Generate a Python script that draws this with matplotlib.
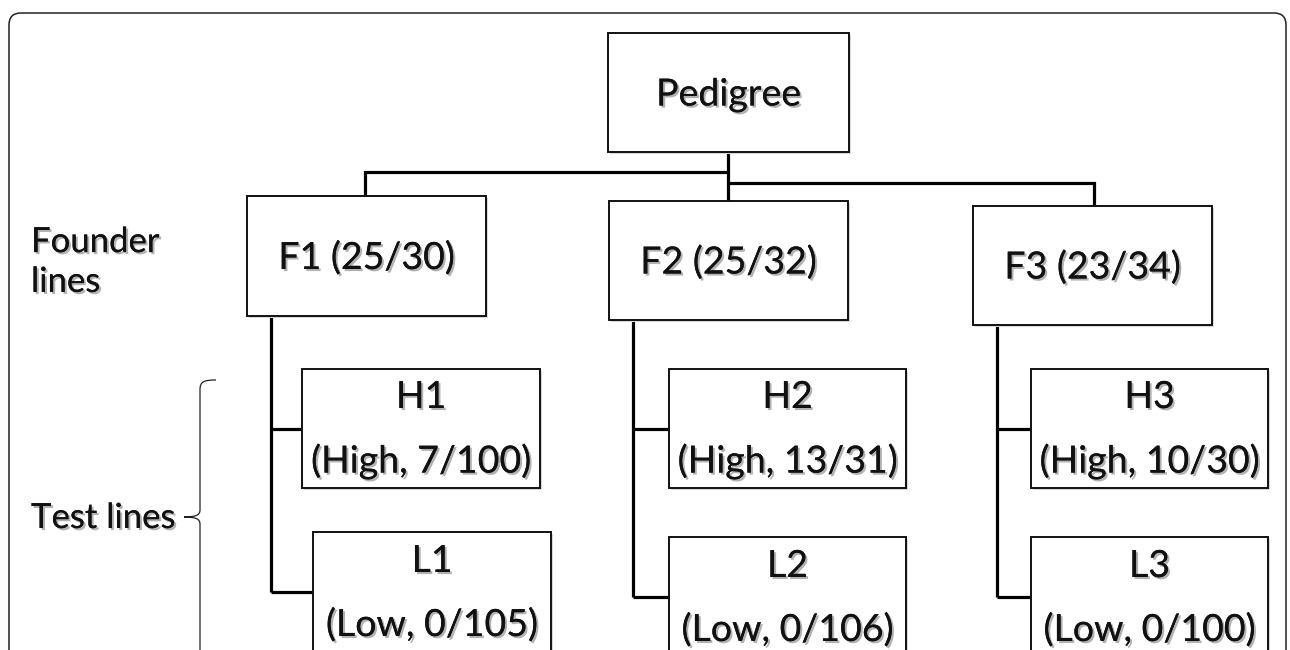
import matplotlib
matplotlib.use("Agg")
import matplotlib.pyplot as plt
from matplotlib.patches import Rectangle, FancyBboxPatch, PathPatch
from matplotlib.path import Path
import matplotlib.patheffects as pe

# ---- content ----
root_label = "Pedigree"
founder_labels = ["F1 (25/30)", "F2 (25/32)", "F3 (23/34)"]
high_names = ["H1", "H2", "H3"]
high_details = ["(High, 7/100)", "(High, 13/31)", "(High, 10/30)"]
low_names = ["L1", "L2", "L3"]
low_details = ["(Low, 0/105)", "(Low, 0/106)", "(Low, 0/100)"]
side_labels = ["Founder\nlines", "Test lines"]

# ---- layout (pixel coordinates, y downwards) ----
W, H = 1290, 650
root_box = (608, 33, 849, 152)
founder_boxes = [(247, 196, 486, 316), (609, 201, 848, 320), (973, 206, 1212, 325)]
founder_join_y = [172, 172, 183]
founder_join_x = [365, 728, 1094]
trunk_x = [271, 633, 997]
high_boxes = [(302, 369, 540, 488), (669, 369, 906, 488), (1031, 369, 1268, 488)]
low_boxes = [(313, 532, 551, 700), (669, 537, 906, 700), (1031, 537, 1268, 700)]
high_branch_y = [429, 429, 429]
low_branch_y = [592, 597, 597]

FONT = "Lato"
FS = 27
FS_SIDE = 25

fig = plt.figure(figsize=(W / 100, H / 100), dpi=100)
ax = fig.add_axes([0, 0, 1, 1])
ax.set_xlim(0, W)
ax.set_ylim(H, 0)
ax.axis("off")

shadow_txt = [pe.withSimplePatchShadow(offset=(1.5, -1.5), shadow_rgbFace="#000000", alpha=0.3), pe.Normal()]

def box(b, lw=1.4):
    x0, y0, x1, y1 = b
    ax.add_patch(Rectangle((x0 + 2, y0 + 2), x1 - x0, y1 - y0, facecolor="#d8d8d8",
                           edgecolor="none", zorder=2))
    ax.add_patch(Rectangle((x0, y0), x1 - x0, y1 - y0, facecolor="white",
                           edgecolor="#111111", lw=lw, zorder=3))

def txt(x, y, s, fs=FS, **kw):
    ax.text(x, y, s, family=FONT, fontsize=fs, color="#111111", zorder=5,
            path_effects=shadow_txt, **kw)

def line(xs, ys, lw=2.3):
    ax.plot(xs, ys, color="black", lw=lw, solid_capstyle="butt",
            solid_joinstyle="miter", zorder=1)

# outer rounded frame
ax.add_patch(FancyBboxPatch((9, 13), 1277, 700, boxstyle="round,pad=0,rounding_size=12",
                            facecolor="none", edgecolor="#222222", lw=1.1, zorder=0))

# connectors root -> founders
rx = founder_join_x[1]
line([rx, rx], [root_box[3], founder_boxes[1][1]])
line([founder_join_x[0], founder_join_x[0], rx], [founder_boxes[0][1], founder_join_y[0], founder_join_y[0]])
line([rx, founder_join_x[2], founder_join_x[2]], [founder_join_y[2], founder_join_y[2], founder_boxes[2][1]])

# connectors founders -> test lines
for i in range(3):
    tx = trunk_x[i]
    line([tx, tx], [founder_boxes[i][3], low_branch_y[i]])
    line([tx, high_boxes[i][0]], [high_branch_y[i], high_branch_y[i]])
    line([tx, low_boxes[i][0]], [low_branch_y[i], low_branch_y[i]])

# root box
box(root_box)
txt((root_box[0] + root_box[2]) / 2, (root_box[1] + root_box[3]) / 2 + 2, root_label,
    ha="center", va="center")

for i in range(3):
    fb = founder_boxes[i]
    box(fb)
    txt((fb[0] + fb[2]) / 2, (fb[1] + fb[3]) / 2 + 2, founder_labels[i], ha="center", va="center")
    hb = high_boxes[i]
    box(hb)
    cx = (hb[0] + hb[2]) / 2
    txt(cx, hb[1] + 28, high_names[i], ha="center", va="center")
    txt(cx, hb[1] + 92, high_details[i], ha="center", va="center")
    lb = low_boxes[i]
    box(lb)
    cx = (lb[0] + lb[2]) / 2
    txt(cx, lb[1] + 29, low_names[i], ha="center", va="center")
    txt(cx, lb[1] + 93, low_details[i], ha="center", va="center")

# side labels
txt(31, 262, side_labels[0], fs=FS_SIDE, ha="left", va="center", linespacing=1.3)
txt(31, 518, side_labels[1], fs=FS_SIDE, ha="left", va="center")

# brace for test lines
verts = [(216, 380), (203, 380), (200, 382), (200, 390),
         (200, 510), (200, 515), (196, 517), (184, 517),
         (196, 517), (200, 519), (200, 524),
         (200, 700)]
codes = [Path.MOVETO, Path.CURVE4, Path.CURVE4, Path.CURVE4,
         Path.LINETO, Path.CURVE4, Path.CURVE4, Path.CURVE4,
         Path.CURVE4, Path.CURVE4, Path.CURVE4,
         Path.LINETO]
ax.add_patch(PathPatch(Path(verts, codes), facecolor="none", edgecolor="#222222", lw=0.9, zorder=1))

fig.savefig("out.png", dpi=100)
